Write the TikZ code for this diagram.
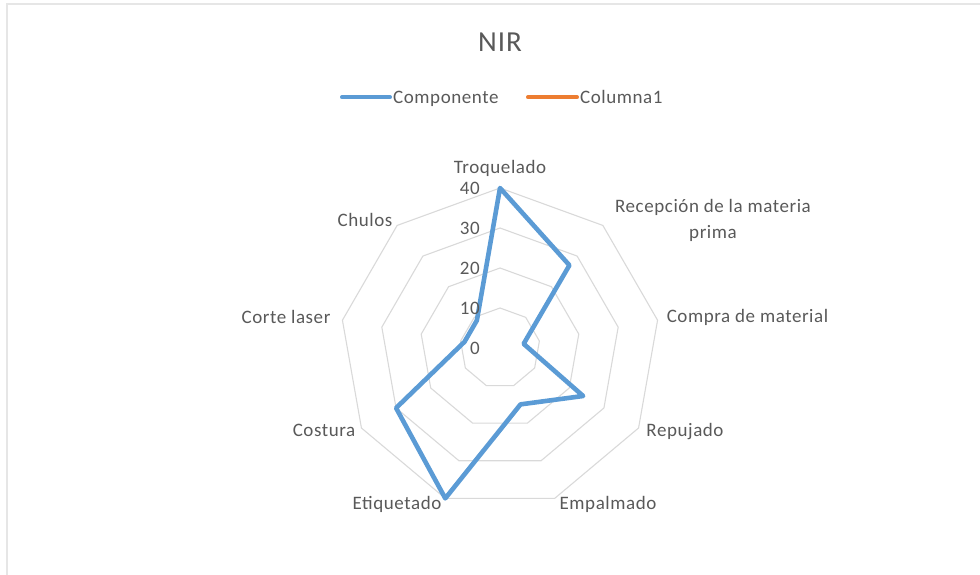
\documentclass[tikz,border=0pt]{standalone}
\usepackage{fontspec}
\setmainfont{Carlito}
\newfontfamily\chartfont[LetterSpace=3]{Carlito}
\definecolor{gridgray}{HTML}{D9D9D9}
\definecolor{framegray}{HTML}{E6E6E6}
\definecolor{labelgray}{HTML}{595959}
\definecolor{serieblue}{HTML}{5B9BD5}
\definecolor{serieorange}{HTML}{ED7D31}
\begin{document}
\begin{tikzpicture}[x=1pt,y=1pt]

    \tikzset{
      ring/.style={
        draw=gridgray,
        line width=1.1pt,
      },
      serie/.style={
        line width=4.6pt,
        line join=round,
      },
      cat/.style={
        text=labelgray,
        font=\chartfont\fontsize{19}{26}\selectfont,
        anchor=base,
        inner sep=0pt,
      },
      tick/.style={
        cat,
        anchor=base east,
      },
    }
    \useasboundingbox (0,0) rectangle (980,575);
    \draw[framegray,line width=1.5pt] (7,0)--(7,571)--(980,571);

    % title and legend
    \node[cat,font=\chartfont\fontsize{29}{34}\selectfont] (title) at (500,523.3) {NIR};
    \coordinate (la) at (342,477.7);
    \coordinate (lb) at (390,477.7);
    \coordinate (lc) at (528,477.7);
    \coordinate (ld) at (577,477.7);
    \draw[serieblue,line width=4pt,line cap=round] (la)--(lb);
    \draw[serieorange,line width=4pt,line cap=round] (lc)--(ld);
    \node[cat,anchor=base west] (leg1) at (393,471.7) {Componente};
    \node[cat,anchor=base west] (leg2) at (580,471.7) {Columna1};

    % radar
    \begin{scope}[shift={(500,227)}]
    \foreach \r in {40,80,120,160}
      \draw[ring] (90:\r) \foreach \k in {1,...,8} { -- ({90-40*\k}:\r) } -- cycle;
    \foreach \v [count=\k from 0] in {40,27,6,24,15,40,30,9,9}
      \coordinate (p\k) at ({90-40*\k}:{4*\v});
    \draw[serie,serieblue] (p0)--(p1)--(p2)--(p3)--(p4)--(p5)--(p6)--(p7)--(p8)--cycle;
    \foreach \v in {0,10,...,40}
      \node[tick] (t\v) at (-20,{4*\v-7}) {\v};
    \end{scope}

    % categories
    \node[cat] (troq) at (500,401) {Troquelado};
    \node[cat,align=center] (recep) at (713,336) {Recepción de la materia\\prima};
    \node[cat] (compra) at (747.5,252) {Compra de material};
    \node[cat] (repu) at (685,138) {Repujado};
    \node[cat] (empal) at (608,65) {Empalmado};
    \node[cat] (etiq) at (397,65) {Etiquetado};
    \node[cat] (cost) at (324,138) {Costura};
    \node[cat] (corte) at (286,251) {Corte laser};
    \node[cat] (chul) at (365,348) {Chulos};

\end{tikzpicture}
\end{document}
